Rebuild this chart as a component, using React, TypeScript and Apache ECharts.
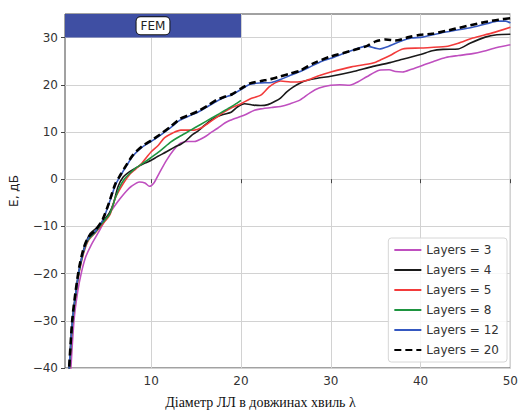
import React, { useEffect, useRef } from "react";
import * as echarts from "echarts";

// Axis extents
const X_MIN = 0.4;
const X_MAX = 50;
const Y_MIN = -40;
const Y_MAX = 35;

// FEM validity band (x range, y range)
const FEM_X: [number, number] = [X_MIN, 20];
const FEM_Y: [number, number] = [30, Y_MAX];

const xTicks = [10, 20, 30, 40, 50];
const yTicks = [-40, -30, -20, -10, 0, 10, 20, 30];

const layers3: [number, number][] = [
  [1.0, -42], [1.4, -30], [1.8, -24], [2.2, -20], [2.7, -16.5], [3.3, -14], [4.2, -11],
  [5.0, -8.2], [5.8, -6], [6.5, -4.2], [7.2, -2.6], [7.8, -1.5], [8.7, -0.6], [9.3, -0.8],
  [9.8, -1.5], [10.3, -0.8], [10.9, 1.3], [11.7, 4], [12.5, 6.2], [13.3, 7.7], [14.1, 8.0],
  [14.8, 8.0], [15.9, 8.9], [16.6, 9.8], [17.4, 10.8], [18.2, 11.9], [18.8, 12.5], [20.4, 13.6],
  [21.5, 14.6], [22.2, 14.9], [23.4, 15.2], [24.4, 15.4], [25.5, 16.0], [26.6, 16.8], [27.7, 18.3],
  [28.7, 19.3], [30, 19.9], [31, 20], [32.1, 19.9], [33, 20.6], [34, 21.7], [35.4, 23.1],
  [36.5, 23.2], [37.2, 22.8], [38, 22.7], [39, 23.3], [40.2, 24.1], [41.5, 25], [42.8, 25.8],
  [44.2, 26.2], [45.8, 26.6], [47, 27.1], [48.5, 27.9], [50, 28.5],
];

const layers4: [number, number][] = [
  [0.8, -42.5], [1.2, -30.5], [1.6, -24], [2.0, -19], [2.5, -14.8], [3.2, -11.5], [4.0, -10.2],
  [4.7, -8.7], [5.3, -7.3], [5.8, -5.1], [6.3, -1.6], [6.9, 0.5], [7.6, 1.6], [8.3, 2.4],
  [9.3, 3.4], [10, 4], [10.7, 4.8], [11.7, 5.8], [12.6, 6.8], [13.3, 7.4], [13.9, 8.2],
  [14.5, 9.3], [15.2, 10.2], [16, 11.5], [17, 12.9], [18, 13.7], [18.9, 14.2], [19.6, 15.3],
  [20.4, 16.0], [21.4, 15.7], [22.2, 15.6], [23, 15.8], [23.8, 16.5], [24.4, 17.2], [25.1, 18.5],
  [25.8, 19.5], [26.6, 20.4], [27.3, 20.9], [28.5, 21.4], [30, 21.8], [32.3, 22.7], [34.7, 23.9],
  [36.6, 24.7], [38, 25.4], [40, 26.4], [41.3, 27.2], [42.5, 27.5], [44.2, 27.6], [45.5, 28.8],
  [47.2, 30.1], [48.5, 30.6], [50, 30.7],
];

const layers5: [number, number][] = [
  [0.8, -43], [1.2, -31], [1.6, -24.5], [2.0, -19.5], [2.5, -15.5], [3.0, -13], [3.8, -11.3],
  [4.6, -9.5], [5.4, -7.5], [6.0, -4], [6.9, -0.9], [7.6, 1], [8.3, 2.2], [9.0, 3.5],
  [10, 5.8], [10.8, 7.2], [11.5, 8.8], [12.4, 9.8], [13.3, 10.4], [14.8, 10.4], [15.6, 10.9],
  [16.3, 11.8], [17.2, 13], [18.1, 14.2], [19, 15.2], [20, 16.0], [21, 17], [22.2, 17.8],
  [23.1, 19.5], [23.8, 20.4], [24.4, 20.8], [25.5, 20.6], [26.3, 20.6], [27.3, 20.9], [28.5, 21.8],
  [30, 22.7], [32.3, 23.8], [34.7, 24.6], [35.7, 25.4], [36.6, 26.2], [38, 27.6], [40, 27.8],
  [42.8, 28.1], [44.2, 28.8], [45.8, 29.9], [48, 31], [50, 32.2],
];

const layers8: [number, number][] = [
  [0.8, -43], [1.2, -31], [1.6, -24.3], [2.0, -19.3], [2.5, -15.2], [3.0, -12.8], [3.8, -11.2],
  [4.6, -9.2], [5.4, -7.3], [6.0, -4], [6.5, -1.6], [7.0, 0], [7.6, 1.2], [8.3, 2.4],
  [9.1, 3.4], [10, 4.6], [11, 6], [12.2, 7.9], [13.3, 9.2], [14.4, 10.4], [15.5, 11.6],
  [16.6, 12.8], [17.6, 13.9], [18.5, 14.9], [19.3, 15.8], [20, 16.7],
];

const layers12: [number, number][] = [
  [0.8, -42], [1.2, -30.5], [1.6, -24], [2.0, -19], [2.5, -15], [3.0, -12.5], [3.8, -11],
  [4.6, -8.7], [5.3, -5.2], [6.0, -1.3], [6.6, 0.8], [7.3, 3], [8.0, 5], [9.0, 6.8],
  [10, 8.0], [11, 9.3], [12.2, 11], [13.2, 12.5], [14.1, 13.3], [15.2, 14.2], [16.3, 15.4],
  [17.3, 16.5], [18.1, 17.3], [19, 17.9], [20, 19.0], [21, 20.1], [22.2, 20.4], [23.4, 20.5],
  [24.4, 21.1], [25.5, 22.0], [26.6, 22.8], [27.7, 23.8], [29, 25], [30, 25.6], [32.1, 27.1],
  [34, 28.2], [35.4, 27.6], [36.5, 28.2], [38, 29.4], [39, 29.9], [40.2, 30.1], [42.8, 31.2],
  [45.8, 32.2], [47.5, 33], [48.5, 33.5], [49.5, 33.5], [50, 33.1],
];

const layers20: [number, number][] = [
  [0.8, -42], [1.2, -30], [1.6, -23.5], [2.0, -18.5], [2.5, -14.5], [3.0, -12.3], [3.8, -10.8],
  [4.6, -8.5], [5.3, -5], [6.0, -1], [6.6, 1], [7.3, 3.2], [8.0, 5.2], [9.0, 7.0],
  [10, 8.2], [11, 9.5], [12.2, 11.2], [13.2, 12.8], [14.1, 13.5], [15.2, 14.4], [16.3, 15.6],
  [17.3, 16.8], [18.1, 17.4], [19, 18.0], [20, 19.2], [21, 20.3], [22.2, 20.8], [23.3, 21.2],
  [24.4, 21.8], [25.5, 22.4], [26.6, 23], [28, 24.5], [30, 26.0], [32.1, 27.1], [34, 28.2],
  [35, 29.2], [36.1, 29.6], [37.2, 29.4], [38.7, 30.1], [40, 30.6], [41.3, 30.8], [43.9, 31.9],
  [45.5, 32.6], [47.2, 33.3], [48.7, 33.8], [50, 34.1],
];

const seriesNames = [
  "Layers = 3",
  "Layers = 4",
  "Layers = 5",
  "Layers = 8",
  "Layers = 12",
  "Layers = 20",
];
const seriesData = [layers3, layers4, layers5, layers8, layers12, layers20];
const seriesColors = ["#BF4FBF", "#1a1a1a", "#F23B3B", "#1E9440", "#3558C0", "#000000"];

const FONT = "'DejaVu Sans', sans-serif";
const minus = (v: number) => String(v).replace("-", "\u2212");

export default function App() {
  const ref = useRef<HTMLDivElement>(null);

  useEffect(() => {
    if (!ref.current) return;
    const chart = echarts.init(ref.current, null, { renderer: "svg" });

    const series: any[] = seriesData.map((data, i) => {
      const dashed = i === seriesData.length - 1;
      return {
        name: seriesNames[i],
        type: "line",
        data,
        showSymbol: false,
        symbol: "none",
        smooth: 0.25,
        clip: true,
        z: 3 + i,
        lineStyle: {
          color: seriesColors[i],
          width: dashed ? 2.6 : 1.6,
          type: dashed ? [7, 4] : "solid",
        },
        itemStyle: { color: seriesColors[i] },
      };
    });

    // FEM band in the top-left corner
    series[0].markArea = {
      silent: true,
      z: 1,
      itemStyle: { color: "#3F4FA3", opacity: 1 },
      label: {
        show: true,
        position: "inside",
        color: "#222",
        fontFamily: FONT,
        fontSize: 12,
        backgroundColor: "#fff",
        borderColor: "#111",
        borderWidth: 1,
        borderRadius: 4,
        padding: [3, 4, 2, 4],
      },
      data: [[
        { name: "FEM", xAxis: FEM_X[0], yAxis: FEM_Y[0] },
        { xAxis: FEM_X[1], yAxis: FEM_Y[1] },
      ]],
    };

    chart.setOption({
      animation: false,
      backgroundColor: "#fff",
      grid: {
        left: 63,
        right: 9,
        top: 14,
        bottom: 44,
        show: true,
        borderColor: "#444",
        borderWidth: 1,
        backgroundColor: "transparent",
      },
      xAxis: {
        type: "value",
        min: X_MIN,
        max: X_MAX,
        splitNumber: 5,
        axisLine: { show: false },
        axisTick: {
          show: true,
          length: 4,
          lineStyle: { color: "#444" },
          customValues: xTicks,
        },
        axisLabel: {
          customValues: xTicks,
          color: "#333",
          fontFamily: FONT,
          fontSize: 12,
          margin: 7,
          formatter: (v: number) => minus(v),
        },
        splitLine: { show: true, lineStyle: { color: "#d2d2d2", width: 1 } },
      },
      yAxis: {
        type: "value",
        min: Y_MIN,
        max: Y_MAX,
        interval: 10,
        name: "Е, дБ",
        nameLocation: "middle",
        nameGap: 45,
        nameRotate: 90,
        nameTextStyle: { color: "#222", fontFamily: FONT, fontSize: 12 },
        axisLine: { show: false },
        axisTick: {
          show: true,
          length: 4,
          lineStyle: { color: "#444" },
          customValues: yTicks,
        },
        axisLabel: {
          customValues: yTicks,
          color: "#333",
          fontFamily: FONT,
          fontSize: 12,
          margin: 7,
          formatter: (v: number) => minus(v),
        },
        splitLine: { show: true, lineStyle: { color: "#d2d2d2", width: 1 } },
      },
      legend: {
        orient: "vertical",
        right: 14,
        bottom: 50,
        itemWidth: 27,
        itemHeight: 12,
        itemGap: 8,
        padding: [6, 8, 6, 5],
        backgroundColor: "rgba(255,255,255,0.85)",
        borderColor: "#d6d6d6",
        borderWidth: 1,
        borderRadius: 3,
        itemStyle: { opacity: 0 },
        textStyle: { color: "#333", fontFamily: FONT, fontSize: 12 },
        data: seriesNames,
      },
      graphic: [
        {
          type: "text",
          left: "center",
          top: 395,
          style: {
            text: "Діаметр ЛЛ в довжинах хвиль λ",
            fill: "#111",
            font: "14px 'Liberation Serif', 'Times New Roman', serif",
          },
        },
      ],
      series,
    });

    return () => chart.dispose();
  }, []);

  return (
    <div
      ref={ref}
      style={{ position: "fixed", left: 0, top: 0, width: 521, height: 412 }}
    />
  );
}
